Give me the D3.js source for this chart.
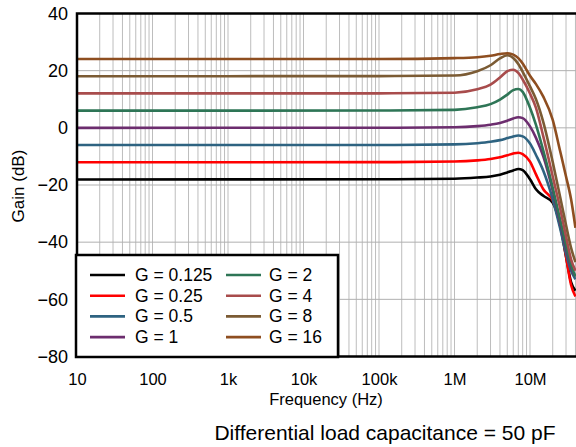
<!DOCTYPE html>
<html>
<head>
<meta charset="utf-8">
<script src="https://cdn.jsdelivr.net/npm/d3@7"></script>
<style>
  body { margin: 0; background: #fff; }
  svg { display: block; font-family: "Liberation Sans", Arial, sans-serif; }
</style>
</head>
<body>
<svg id="chart" width="576" height="447"></svg>
<script>
const width = 576;
const height = 447;

// frequencies (Hz) shared by every curve
const freqs = [10, 1e5, 1e6, 2e6, 3e6, 4e6, 5e6, 6e6, 7e6, 8e6, 1e7, 1.2e7, 1.5e7, 2e7, 2.5e7, 3e7, 3.5e7, 4e7];

// gain (dB), one array per gain setting
const gain0125 = [-18.06, -18.0, -17.8, -17.4, -17.0, -16.4, -15.6, -14.9, -14.4, -14.8, -18.0, -21.5, -23.8, -26.2, -34, -45, -54, -57];
const gain025  = [-12.04, -12.0, -11.8, -11.4, -10.9, -10.3, -9.6, -9.0, -8.7, -9.2, -11.8, -16.3, -21.5, -25.4, -33, -45, -55, -59];
const gain05   = [-6.02, -6.0, -5.8, -5.4, -4.9, -4.3, -3.6, -3.0, -2.7, -3.0, -5.5, -9.5, -15, -25, -35, -44, -50, -53];
const gain1    = [0, 0.02, 0.2, 0.6, 1.1, 1.7, 2.5, 3.3, 3.7, 3.4, 0.5, -3.5, -10, -22, -33, -42, -49, -52];
const gain2    = [6.02, 6.05, 6.3, 7.2, 8.3, 9.9, 11.6, 13.2, 13.6, 12.6, 7.0, 1.0, -8, -21, -32, -41, -48, -52];
const gain4    = [12.04, 12.07, 12.3, 13.5, 15.1, 17.6, 19.8, 20.3, 19.2, 16.9, 12.0, 7.0, -3, -17, -28, -38, -46, -50];
const gain8    = [18.06, 18.1, 18.3, 19.8, 21.9, 24.3, 25.4, 24.4, 22.3, 19.6, 14.5, 10.0, 2, -12, -24, -34, -42, -47];
const gain16   = [24.08, 24.1, 24.4, 24.7, 25.2, 25.8, 26.1, 25.6, 24.4, 22.5, 18.2, 15.3, 10.9, 2.8, -8, -17, -25, -35];

const seriesNames = ["G = 0.125", "G = 0.25", "G = 0.5", "G = 1", "G = 2", "G = 4", "G = 8", "G = 16"];
const seriesGains = [gain0125, gain025, gain05, gain1, gain2, gain4, gain8, gain16];
const seriesColors = ["#000000", "#ff0000", "#2e6381", "#6c2d6e", "#2e7556", "#a84c4c", "#7b5b34", "#8e4e20"];

const xTickValues = [10, 100, 1e3, 1e4, 1e5, 1e6, 1e7];
const xTickLabels = ["10", "100", "1k", "10k", "100k", "1M", "10M"];
const yTickValues = [-80, -60, -40, -20, 0, 20, 40];

const svg = d3.select("#chart");

const x = d3.scaleLog().domain([10, 1e8]).range([77, 605.5]);
const y = d3.scaleLinear().domain([-80, 40]).range([356.5, 13.5]);

// grid: vertical lines at every 1..9 of each decade
const minorFreqs = [];
for (let d = 10; d < 1e8; d *= 10) {
    for (let k = 1; k < 10; k++) minorFreqs.push(d * k);
}

const grid = svg.append("g");
grid.selectAll(".vgrid")
    .data(minorFreqs.filter(f => f > 10))
    .join("line")
    .attr("class", "vgrid")
    .attr("x1", d => x(d)).attr("x2", d => x(d))
    .attr("y1", y(40)).attr("y2", y(-80))
    .attr("stroke", "#bdbdbd")
    .attr("stroke-width", 1);

grid.selectAll(".hgrid")
    .data(yTickValues.filter(v => v > -80 && v < 40))
    .join("line")
    .attr("class", "hgrid")
    .attr("x1", x(10)).attr("x2", width)
    .attr("y1", d => y(d)).attr("y2", d => y(d))
    .attr("stroke", "#b0b0b0")
    .attr("stroke-width", 1);

// curves
const line = d3.line()
    .x(d => x(d[0]))
    .y(d => y(d[1]))
    .curve(d3.curveMonotoneX);

svg.append("g")
    .selectAll("path")
    .data(seriesGains)
    .join("path")
    .attr("d", g => line(freqs.map((f, i) => [f, g[i]])))
    .attr("fill", "none")
    .attr("stroke", (g, i) => seriesColors[i])
    .attr("stroke-width", 2.6)
    .attr("stroke-linejoin", "round");

// frame
svg.append("path")
    .attr("d", `M${x(1e8)},${y(40)}H${x(10)}V${y(-80)}H${x(1e8)}`)
    .attr("fill", "none")
    .attr("stroke", "#000")
    .attr("stroke-width", 2.5);

// axes
const xAxis = d3.axisBottom(x)
    .tickValues(xTickValues)
    .tickFormat((d, i) => xTickLabels[i])
    .tickSize(0)
    .tickPadding(17);

svg.append("g")
    .attr("transform", `translate(0,${y(-80)})`)
    .call(xAxis)
    .call(g => g.select(".domain").remove())
    .selectAll("text")
    .attr("font-size", 16.5)
    .attr("font-family", "Liberation Sans, Arial, sans-serif")
    .attr("fill", "#000");

const yAxis = d3.axisLeft(y)
    .tickValues(yTickValues)
    .tickSize(0)
    .tickPadding(9);

svg.append("g")
    .attr("transform", `translate(${x(10)},0)`)
    .call(yAxis)
    .call(g => g.select(".domain").remove())
    .selectAll("text")
    .attr("font-size", 18)
    .attr("font-family", "Liberation Sans, Arial, sans-serif")
    .attr("fill", "#000");

// axis titles
svg.append("text")
    .attr("x", 326).attr("y", 405)
    .attr("text-anchor", "middle")
    .attr("font-size", 16.5)
    .text("Frequency (Hz)");

svg.append("text")
    .attr("transform", "translate(24,186) rotate(-90)")
    .attr("text-anchor", "middle")
    .attr("font-size", 17)
    .text("Gain (dB)");

svg.append("text")
    .attr("x", 385).attr("y", 440)
    .attr("text-anchor", "middle")
    .attr("font-size", 21)
    .text("Differential load capacitance = 50 pF");

// legend
const legend = svg.append("g");
legend.append("rect")
    .attr("x", 76).attr("y", 255)
    .attr("width", 262).attr("height", 102)
    .attr("fill", "#fff")
    .attr("stroke", "#000")
    .attr("stroke-width", 2.5);

const items = legend.selectAll(".item")
    .data(seriesNames)
    .join("g")
    .attr("class", "item")
    .attr("transform", (d, i) => `translate(${i < 4 ? 90 : 226},${275 + (i % 4) * 20.7})`);

items.append("line")
    .attr("x1", 0).attr("x2", 35)
    .attr("stroke", (d, i) => seriesColors[i])
    .attr("stroke-width", 2.6);

items.append("text")
    .attr("x", (d, i) => i < 4 ? 45 : 43)
    .attr("y", 6)
    .attr("font-size", 17.5)
    .text(d => d);
</script>
</body>
</html>
